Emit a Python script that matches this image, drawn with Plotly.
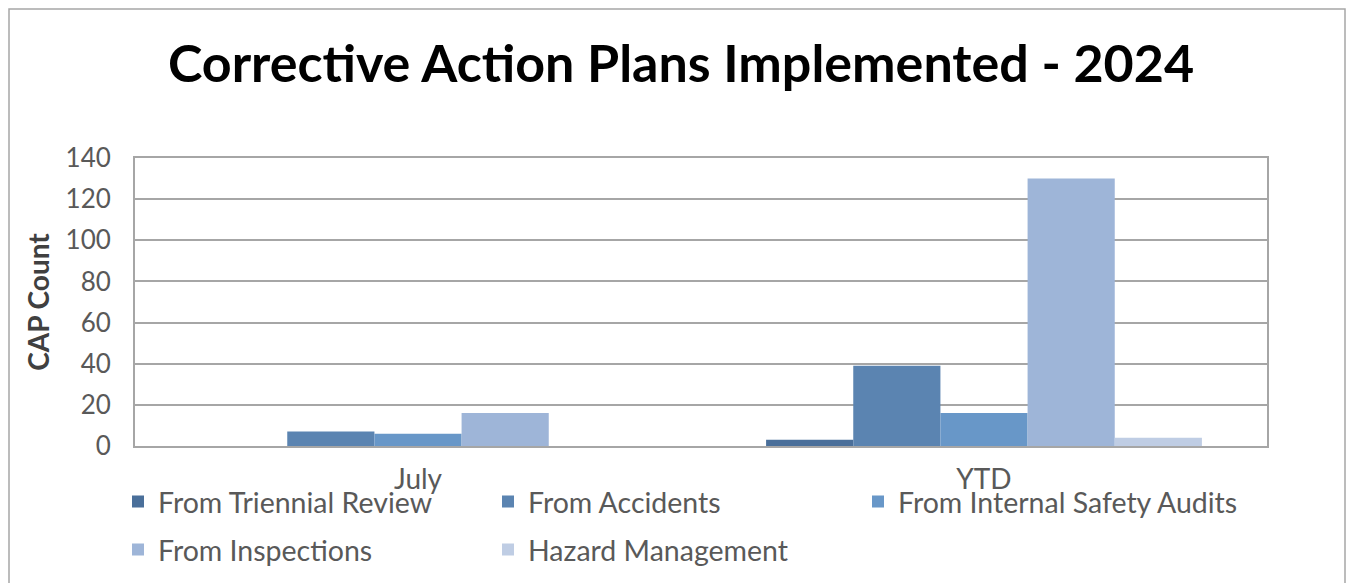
import plotly.graph_objects as go

categories = ["July", "YTD"]
series_names = ["From Triennial Review", "From Accidents", "From Internal Safety Audits",
                "From Inspections", "Hazard Management"]
triennial = [0, 3]
accidents = [7, 39]
internal_audits = [6, 16]
inspections = [16, 130]
hazard = [0, 4]
colors = ["#4a6f9a", "#5b84b1", "#6897c8", "#9eb5d8", "#bfcde4"]
y_ticks = [0, 20, 40, 60, 80, 100, 120, 140]

values = [triennial, accidents, internal_audits, inspections, hazard]

FONT = "Lato"
W, H = 1346, 575
L, R, T, B = 127, 87, 150, 137
PW, PH = W - L - R, H - T - B

# legend item layout (pixel offsets from plot-area left / bottom)
leg_cols = [0, 370, 740, 0, 370]
leg_rows = [56, 56, 56, 104, 104]

fig = go.Figure()
legends = {}
for i, (name, vals, col) in enumerate(zip(series_names, values, colors)):
    lid = "legend" if i == 0 else f"legend{i + 1}"
    fig.add_trace(go.Bar(x=categories, y=vals, name=name, marker_color=col,
                         marker_line_width=0, legend=lid))
    legends[lid] = dict(orientation="h", xanchor="left", yanchor="middle",
                        x=(leg_cols[i] - 17) / PW, y=-leg_rows[i] / PH,
                        font=dict(family=FONT, size=28.5, color="#595959"),
                        bgcolor="rgba(0,0,0,0)", itemclick=False)

fig.update_layout(
    width=W, height=H,
    margin=dict(l=L, r=R, t=T, b=B, autoexpand=False),
    paper_bgcolor="white", plot_bgcolor="white",
    barmode="group", bargap=0.23, bargroupgap=0,
    title=dict(text="<b>Corrective Action Plans Implemented - 2024</b>",
               x=0.5, xanchor="center", y=1 - 56 / H, yanchor="middle",
               font=dict(family=FONT, size=52, color="black")),
    font=dict(family=FONT, color="#595959"),
    showlegend=True,
    shapes=[dict(type="rect", xref="paper", yref="paper",
                 x0=(1 - L) / PW, x1=(1337 - L) / PW,
                 y0=-0.8, y1=(H - B - 1) / PH,
                 line=dict(color="#a6a6a6", width=1.5), layer="below")],
    **legends,
)
fig.update_xaxes(showgrid=False, showline=True, linecolor="#a6a6a6", linewidth=2,
                 mirror=True, ticks="", tickfont=dict(family=FONT, size=28, color="#595959"),
                 ticklabelstandoff=7)
fig.update_yaxes(range=[0, 140], tickvals=y_ticks, showgrid=True, gridcolor="#a6a6a6",
                 gridwidth=2, showline=True, linecolor="#a6a6a6", linewidth=2, mirror=True,
                 zeroline=False, ticks="", ticklabelstandoff=17,
                 tickfont=dict(family=FONT, size=26, color="#595959"),
                 title=dict(text="<b>CAP Count</b>", standoff=8,
                            font=dict(family=FONT, size=28, color="#404040")))
fig.write_html("out.html")
